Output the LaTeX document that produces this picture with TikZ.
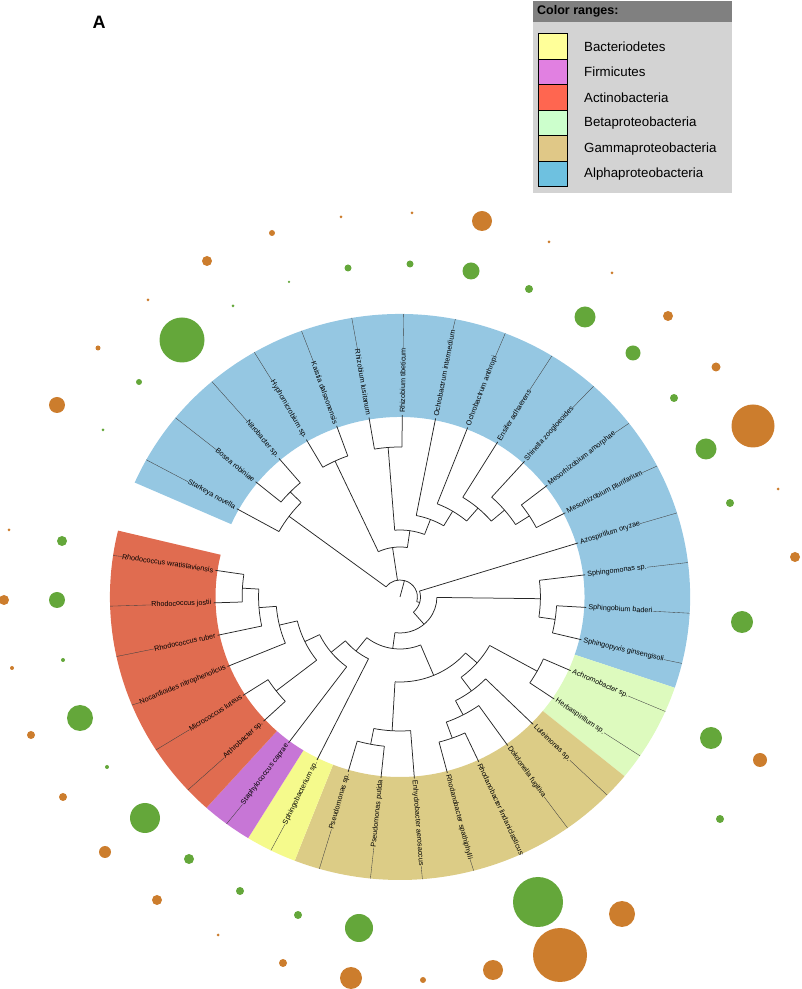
\documentclass[tikz,border=0pt]{standalone}
\usepackage{fontspec}
\setmainfont{Liberation Sans}
\definecolor{bandblue}{RGB}{149,199,226}
\definecolor{bandgreen}{RGB}{221,250,190}
\definecolor{bandtan}{RGB}{220,204,134}
\definecolor{bandyellow}{RGB}{245,250,140}
\definecolor{bandpurple}{RGB}{199,118,214}
\definecolor{bandred}{RGB}{224,108,80}
\definecolor{legyellow}{RGB}{255,255,153}
\definecolor{legpurple}{RGB}{225,128,225}
\definecolor{legred}{RGB}{255,102,80}
\definecolor{leggreen}{RGB}{204,255,204}
\definecolor{legtan}{RGB}{224,200,135}
\definecolor{legblue}{RGB}{110,193,224}
\definecolor{boxgray}{RGB}{211,211,211}
\definecolor{headgray}{RGB}{128,128,128}
\definecolor{bubgreen}{RGB}{100,167,58}
\definecolor{buborange}{RGB}{204,125,45}
\newcommand\TArc[3]{\draw[tree] (#2:#1) arc[start angle=#2, end angle=#3, radius=#1];}
\newcommand\TRad[3]{\draw[tree] (#1:#2) -- (#1:#3);}
\newcommand\LeafR[3]{\node[lbl, anchor=west, rotate=#2] (#1) at (#2:184) {#3};\draw[tick] (#1.east) -- (#2:283);}
\newcommand\LeafL[3]{\node[lbl, anchor=east, rotate=#2+180] (#1) at (#2:184) {#3};\draw[tick] (#1.west) -- (#2:283);}
\newcommand\Band[3]{\fill[#1] (#2:180) arc[start angle=#2, end angle=#3, radius=180] -- (#3:283) arc[start angle=#3, end angle=#2, radius=283] -- cycle;}
\newcommand\GB[3]{\fill[bubgreen] (#1,989-#2) circle[radius=#3/2];}
\newcommand\OB[3]{\fill[buborange] (#1,989-#2) circle[radius=#3/2];}
\begin{document}
\begin{tikzpicture}[x=1pt,y=1pt,
  tree/.style={line width=0.75pt, black!85},
  lbl/.style={font=\fontsize{7.2}{8}\selectfont, inner sep=0pt, text=black},
  tick/.style={line width=0.35pt, black!75},
  legtext/.style={anchor=west, font=\fontsize{13.3}{15}\selectfont, inner sep=0pt},
  swatch/.style={draw=black, line width=1pt}]
\useasboundingbox (0,0) rectangle (802,989);
% panel letter
\node[font=\bfseries\fontsize{18}{20}\selectfont, inner sep=0pt] (panelA) at (99,967) {A};
% legend
\fill[boxgray] (533,796) rectangle (732,967);
\fill[headgray] (533,967) rectangle (732,988);
\node[anchor=west, font=\bfseries\fontsize{12.5}{14}\selectfont, inner sep=0pt] (legtitle) at (537,977.5) {Color ranges:};
\foreach \c/\t [count=\k from 0] in {legyellow/Bacteriodetes, legpurple/Firmicutes, legred/Actinobacteria, leggreen/Betaproteobacteria, legtan/Gammaproteobacteria, legblue/Alphaproteobacteria}{
  \draw[swatch, fill=\c] (538,989-34-25.5*\k) rectangle (567,989-59.5-25.5*\k);
  \node[legtext] (leg\k) at (584,989-46.75-25.5*\k) {\t};
}
% bubbles (green inner ring, orange outer ring)
\GB{103}{430}{3}\GB{139}{382}{6}\GB{182}{340}{45}\GB{233}{306}{3}\GB{289}{282}{2.5}
\GB{348}{268}{7}\GB{410}{264}{7}\GB{471}{271}{17}\GB{529}{289}{8}\GB{585}{317}{21}
\GB{633}{353}{15}\GB{674}{398}{8}\GB{706}{449}{21}\GB{730}{503}{8}
\GB{742}{622}{22}\GB{711}{738}{22}\GB{720}{819}{8}\GB{538}{902}{50}
\GB{359}{928}{28}\GB{298}{915}{8}\GB{240}{891}{8}\GB{189}{859}{10}\GB{145}{818}{30}
\GB{107}{767}{4}\GB{80}{718}{26}\GB{63}{660}{4}\GB{57}{600}{16}\GB{62}{541}{10}
\OB{57}{405}{16}\OB{98}{348}{5}\OB{148}{300}{3}\OB{207}{261}{10}\OB{272}{233}{6}
\OB{341}{217}{3}\OB{412}{213}{3}\OB{482}{221}{20}\OB{549}{242}{3}\OB{612}{273}{3}
\OB{668}{316}{10}\OB{716}{367}{9}\OB{753}{426}{43}\OB{778}{489}{3}
\OB{795}{557}{10}\OB{760}{760}{14}\OB{622}{914}{26}\OB{560}{955}{54}\OB{493}{970}{20}
\OB{423}{980}{6}\OB{351}{978}{22}\OB{283}{963}{8}\OB{218}{935}{3}\OB{157}{900}{10}
\OB{105}{852}{12}\OB{63}{797}{8}\OB{31}{735}{8}\OB{12}{668}{4}\OB{4}{600}{10}\OB{9}{530}{3}
% tree
\begin{scope}[shift={(400,392)}, xscale=1.025]
\Band{bandblue}{156.14}{-18.71}
\Band{bandgreen}{-18.71}{-39.29}
\Band{bandtan}{-39.29}{-111.29}
\Band{bandyellow}{-111.29}{-121.57}
\Band{bandpurple}{-121.57}{-131.86}
\Band{bandred}{-131.86}{-193.57}
% root
\coordinate (root) at (0,0);
\draw[tree] (root) -- (75.22:17);
\TArc{17}{-16.0}{143.29}
% clade A
\TRad{143.29}{17}{135}\TArc{135}{135.57}{151}\TRad{151}{135}{182}
\TRad{135.57}{135}{150}\TArc{150}{130.429}{140.714}\TRad{140.714}{150}{182}\TRad{130.429}{150}{182}
% N1
\TRad{98.37}{17}{50}\TArc{50}{81.73}{115.0}
\TRad{115.0}{50}{150}\TArc{150}{109.857}{120.143}\TRad{120.143}{150}{182}\TRad{109.857}{150}{182}
\TRad{81.73}{50}{67}\TArc{67}{69.04}{94.43}
\TRad{94.43}{67}{150}\TArc{150}{89.286}{99.571}\TRad{99.571}{150}{182}\TRad{89.286}{150}{182}
\TRad{69.04}{67}{83}\TArc{83}{59.07}{79.0}\TRad{79.0}{83}{182}
\TRad{59.07}{83}{100}\TArc{100}{49.43}{68.714}\TRad{68.714}{100}{182}
\TRad{49.43}{100}{117}\TArc{117}{40.43}{58.429}\TRad{58.429}{117}{182}
\TRad{40.43}{117}{134}\TArc{134}{32.714}{48.143}\TRad{48.143}{134}{182}
\TRad{32.714}{134}{150}\TArc{150}{27.571}{37.857}\TRad{37.857}{150}{182}\TRad{27.571}{150}{182}
% R2
\TRad{-16.0}{17}{20}\TArc{20}{-49.29}{17.286}\TRad{17.286}{20}{182}
\TRad{-49.29}{20}{36}\TArc{36}{-97.87}{-0.71}
\TRad{-0.71}{36}{137}\TArc{137}{-8.43}{7.0}\TRad{7.0}{137}{182}
\TRad{-8.43}{137}{153}\TArc{153}{-13.571}{-3.286}\TRad{-3.286}{153}{182}\TRad{-13.571}{153}{182}
\TRad{-97.87}{36}{52}\TArc{52}{-128.48}{-67.25}
% left lower
\TRad{-128.48}{52}{69}\TArc{69}{-140.54}{-116.429}\TRad{-116.429}{69}{182}
\TRad{-140.54}{69}{87}\TArc{87}{-154.36}{-126.714}\TRad{-126.714}{87}{182}
\TRad{-154.36}{87}{103}\TArc{103}{-166.57}{-142.14}
\TRad{-142.14}{103}{153}\TArc{153}{-147.286}{-137.0}\TRad{-147.286}{153}{182}\TRad{-137.0}{153}{182}
\TRad{-166.57}{103}{121}\TArc{121}{-175.57}{-157.571}\TRad{-157.571}{121}{182}
\TRad{-175.57}{121}{138}\TArc{138}{-183.29}{-167.857}\TRad{-167.857}{138}{182}
\TRad{-183.29}{138}{154}\TArc{154}{-188.429}{-178.143}\TRad{-188.429}{154}{182}\TRad{-178.143}{154}{182}
% gamma / beta
\TRad{-67.25}{52}{85}\TArc{85}{-93.29}{-41.21}
\TRad{-93.29}{85}{134}\TArc{134}{-101.0}{-85.571}\TRad{-85.571}{134}{182}
\TRad{-101.0}{134}{150}\TArc{150}{-106.143}{-95.857}\TRad{-106.143}{150}{182}\TRad{-95.857}{150}{182}
\TRad{-41.21}{85}{100}\TArc{100}{-53.43}{-29.0}
\TRad{-29.0}{100}{153}\TArc{153}{-34.143}{-23.857}\TRad{-34.143}{153}{182}\TRad{-23.857}{153}{182}
\TRad{-53.43}{100}{117}\TArc{117}{-62.43}{-44.429}\TRad{-44.429}{117}{182}
\TRad{-62.43}{117}{133}\TArc{133}{-70.14}{-54.714}\TRad{-54.714}{133}{182}
\TRad{-70.14}{133}{150}\TArc{150}{-75.286}{-65.0}\TRad{-75.286}{150}{182}\TRad{-65.0}{150}{182}
% labels
\LeafL{l0}{151}{Starkeya novella}
\LeafL{l1}{140.714}{Bosea robiniae}
\LeafL{l2}{130.429}{Nitrobacter sp.}
\LeafL{l3}{120.143}{Hyphomicrobium sp.}
\LeafL{l4}{109.857}{Kaistia dalseonensis}
\LeafL{l5}{99.571}{Rhizobium lusitanum}
\LeafR{l6}{89.286}{Rhizobium tibeticum}
\LeafR{l7}{79.0}{Ochrobactrum intermedium}
\LeafR{l8}{68.714}{Ochrobactrum anthropi}
\LeafR{l9}{58.429}{Ensifer adhaerens}
\LeafR{l10}{48.143}{Shinella zoogloeoides}
\LeafR{l11}{37.857}{Mesorhizobium amorphae}
\LeafR{l12}{27.571}{Mesorhizobium plurifarium}
\LeafR{l13}{17.286}{Azospirillum oryzae}
\LeafR{l14}{7.0}{Sphingomonas sp.}
\LeafR{l15}{-3.286}{Sphingobium baderi}
\LeafR{l16}{-13.571}{Sphingopyxis ginsengisoli}
\LeafR{l17}{-23.857}{Achromobacter sp.}
\LeafR{l18}{-34.143}{Herbaspirillum sp.}
\LeafR{l19}{-44.429}{Luteimonas sp.}
\LeafR{l20}{-54.714}{Dokdonella fugitiva}
\LeafR{l21}{-65.0}{Rhodanobacter lindaniclasticus}
\LeafR{l22}{-75.286}{Rhodanobacter spathiphylli}
\LeafR{l23}{-85.571}{Enhydrobacter aerosaccus}
\LeafL{l24}{-95.857}{Pseudomonas putida}
\LeafL{l25}{-106.143}{Pseudomonas sp.}
\LeafL{l26}{-116.429}{Sphingobacterium sp.}
\LeafL{l27}{-126.714}{Staphylococcus caprae}
\LeafL{l28}{-137.0}{Arthrobacter sp.}
\LeafL{l29}{-147.286}{Micrococcus luteus}
\LeafL{l30}{-157.571}{Nocardioides nitrophenolicus}
\LeafL{l31}{-167.857}{Rhodococcus ruber}
\LeafL{l32}{-178.143}{Rhodococcus jostii}
\LeafL{l33}{-188.429}{Rhodococcus wratislaviensis}
\end{scope}
\end{tikzpicture}
\end{document}
